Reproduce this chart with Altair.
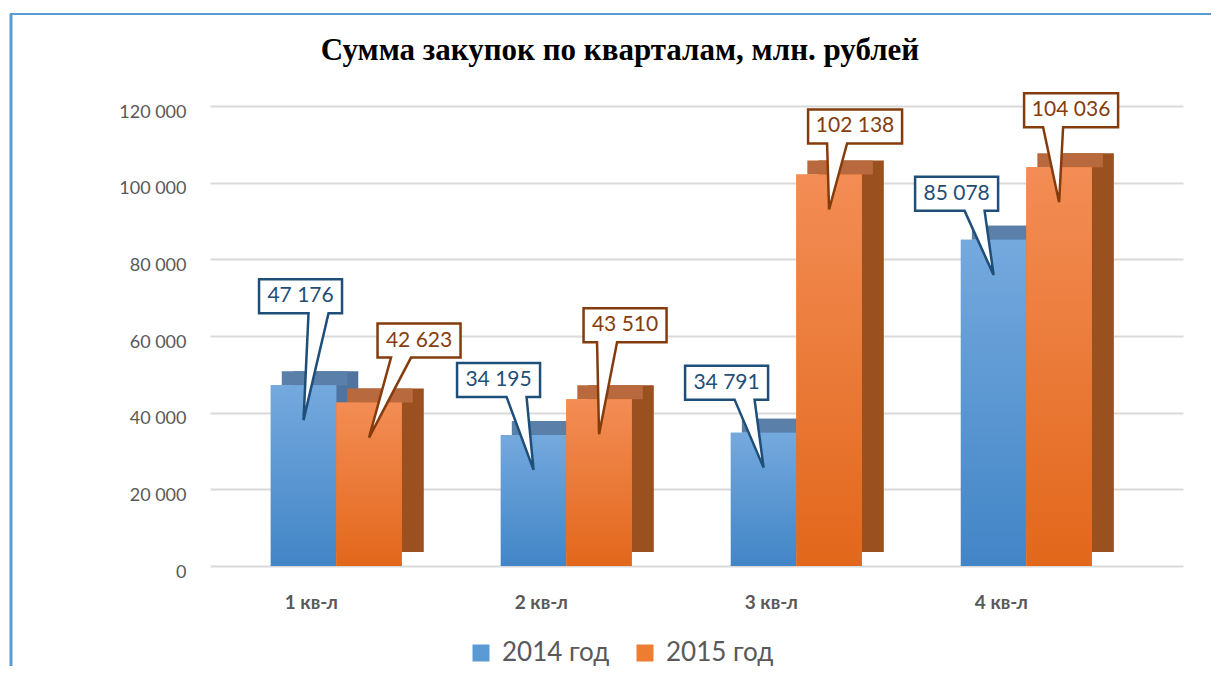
import altair as alt
import pandas as pd

# ---------------- data ----------------
quarters = ["1 кв-л", "2 кв-л", "3 кв-л", "4 кв-л"]
series = ["2014 год", "2015 год"]
values_2014 = [47176, 34195, 34791, 85078]
values_2015 = [42623, 43510, 102138, 104036]
y_ticks = [0, 20000, 40000, 60000, 80000, 100000, 120000]
title_text = "Сумма закупок по кварталам, млн. рублей"

# ---------------- styles ----------------
front_colors = ["#5b9bd5", "#ed7d31"]
grad_top = ["#74a9dd", "#f38d55"]
grad_bot = ["#4285c7", "#e2671b"]
side_colors = ["#4f74a0", "#9a511f"]
topface_colors = ["#5a7fa8", "#b86a3e"]
callout_colors = ["#1f4e79", "#843c0c"]
bar_shift = [-32.75, 32.75]   # centre of each series' bar inside its quarter band
BAR_W = 65.5
DEPTH_X, DEPTH_Y = 22, 14
# callout box centre offsets (px) relative to the bar top, per quarter
callout_offsets = {
    "2014 год": [(-3, -89), (-35, -55), (-37, -50), (-37, -46)],
    "2015 год": [(50, -62), (26, -74), (26, -48), (12, -57)],
}
TIP = 35
BOX_H = 34
FONT = "Lato"

rows = []
for i, q in enumerate(quarters):
    rows.append({"q": q, "s": series[0], "v": values_2014[i]})
    rows.append({"q": q, "s": series[1], "v": values_2015[i]})
df = pd.DataFrame(rows)
df["label"] = df["v"].map(lambda v: f"{v:,}".replace(",", " "))

base = alt.Chart(df)

x_enc = alt.X(
    "q:N",
    sort=quarters,
    scale=alt.Scale(paddingInner=0.43, paddingOuter=0.33, align=0.4),
    axis=alt.Axis(
        title=None, domain=False, ticks=False, grid=False, labelAngle=0,
        labelFont=FONT, labelFontSize=19, labelFontWeight="bold",
        labelColor="#595959", labelPadding=27, labelOffset=-25,
    ),
)
y_enc = alt.Y(
    "v:Q",
    scale=alt.Scale(domain=[0, 120000], nice=False),
    axis=alt.Axis(
        title=None, values=y_ticks,
        labelExpr="replace(format(datum.value, ','), ',', ' ')",
        domain=False, ticks=False, labelFont=FONT, labelFontSize=18,
        labelColor="#595959", labelPadding=24, labelOffset=6,
        gridColor="#d9d9d9", gridWidth=2,
    ),
)

layers = []
for k, s in enumerate(series):
    sel = base.transform_filter(alt.datum.s == s)
    layers.append(
        sel.mark_bar(width=BAR_W, xOffset=bar_shift[k] + DEPTH_X, yOffset=-DEPTH_Y,
                     y2Offset=-DEPTH_Y, color=side_colors[k])
        .encode(x=x_enc, y=y_enc)
    )
    layers.append(
        sel.mark_bar(width=BAR_W, xOffset=bar_shift[k] + DEPTH_X / 2, yOffset=-DEPTH_Y,
                     color=topface_colors[k])
        .encode(x=x_enc, y=y_enc, y2="v:Q")
    )

legend = alt.Legend(
    title=None, orient="none", legendX=258, legendY=534, direction="horizontal",
    symbolType="square", symbolSize=289, symbolStrokeWidth=0,
    labelFont=FONT, labelFontSize=26, labelColor="#595959",
    labelOffset=8, columnPadding=22, padding=0,
)
for k, s in enumerate(series):
    sel = base.transform_filter(alt.datum.s == s)
    layers.append(
        sel.mark_bar(width=BAR_W, xOffset=bar_shift[k])
        .encode(x=x_enc, y=y_enc,
                color=alt.Color("s:N", sort=series,
                                scale=alt.Scale(domain=series, range=front_colors),
                                legend=legend))
    )
    grad = alt.Gradient(
        gradient="linear",
        stops=[alt.GradientStop(color=grad_top[k], offset=0),
               alt.GradientStop(color=grad_bot[k], offset=1)],
        x1=0, x2=0, y1=0, y2=1,
    )
    layers.append(
        sel.mark_bar(width=BAR_W, xOffset=bar_shift[k], color=grad)
        .encode(x=x_enc, y=y_enc)
    )

# callouts
for k, s in enumerate(series):
    for i, q in enumerate(quarters):
        dx, dy = callout_offsets[s][i]
        val = (values_2014 if k == 0 else values_2015)[i]
        w = 94 if val >= 100000 else 83
        left, right = dx - w / 2, dx + w / 2
        top, bottom = dy - BOX_H / 2, dy + BOX_H / 2
        bc = dx + 18 if dx < 0 else dx - 18
        path = (f"M{left},{top}H{right}V{bottom}H{bc + 10}"
                f"L0,{TIP}L{bc - 10},{bottom}H{left}Z")
        sel = base.transform_filter((alt.datum.s == s) & (alt.datum.q == q))
        layers.append(
            sel.mark_point(shape=path, size=4, filled=True, fill="white", opacity=1,
                           stroke=callout_colors[k], strokeWidth=2.5,
                           xOffset=bar_shift[k])
            .encode(x=x_enc, y=y_enc)
        )
        layers.append(
            sel.mark_text(dx=dx + bar_shift[k], dy=dy, align="center", baseline="middle",
                          font=FONT, fontSize=21, color=callout_colors[k])
            .encode(x=x_enc, y=y_enc, text="label:N")
        )

deco = alt.Data(values=[{"t": title_text}])
title_mark = alt.Chart(deco).mark_text(
    font="Liberation Serif", fontSize=31, fontWeight="bold", color="#000000",
    align="center", baseline="alphabetic",
).encode(x=alt.value(410), y=alt.value(-46), text="t:N")
frame_left = alt.Chart(deco).mark_rule(color="#5b9bd5", strokeWidth=3).encode(
    x=alt.value(-199), y=alt.value(-92), y2=alt.value(560))
frame_top = alt.Chart(deco).mark_rule(color="#5b9bd5", strokeWidth=2).encode(
    x=alt.value(-200), x2=alt.value(1001), y=alt.value(-92))
layers += [title_mark, frame_left, frame_top]

chart = alt.layer(*layers).properties(
    width=973, height=460,
    background="white",
    autosize=alt.AutoSizeParams(type="none"),
    padding={"left": 202, "top": 98, "right": 28, "bottom": 108},
).configure_view(stroke="transparent", strokeWidth=0)

chart.save("out.html", embed_options={"renderer": "svg", "actions": False})
